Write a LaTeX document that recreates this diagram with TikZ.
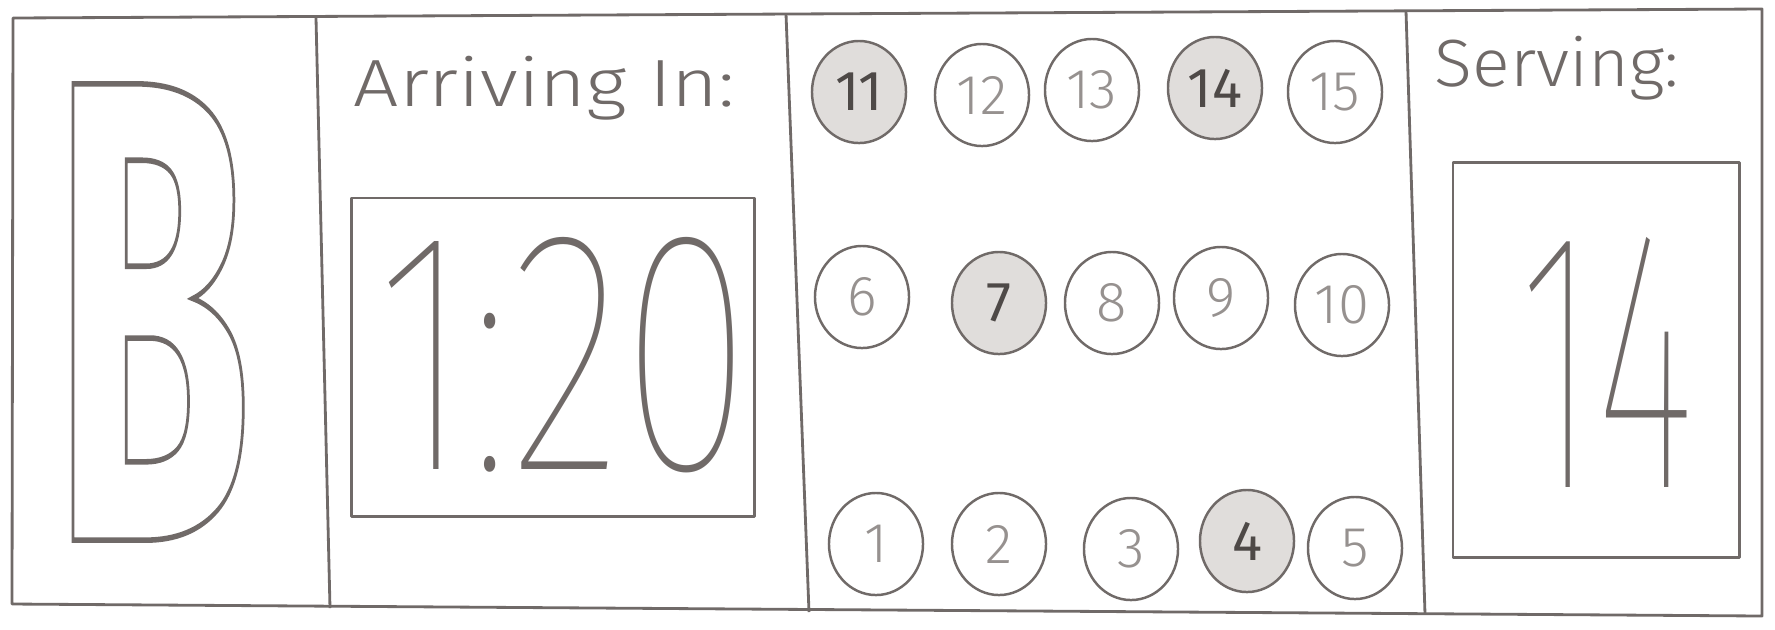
\documentclass[tikz,border=0pt]{standalone}
\usepackage{fontspec}
\setmainfont{Fira Sans}[UprightFont={* Light}, BoldFont={*}]
\newfontfamily\blockfont{Fira Sans}
\newfontfamily\hairfont{Fira Sans Thin}
\usetikzlibrary{shapes.geometric}
\definecolor{pencil}{RGB}{112,106,104}
\definecolor{faint}{RGB}{150,145,143}
\definecolor{lead}{RGB}{78,73,71}
\definecolor{shade}{RGB}{224,221,219}
\newcommand\hollowtext[1]{\special{pdf:literal direct 1 Tr 1.6 w}#1\special{pdf:literal direct 0 Tr}}
\tikzset{
  pane/.style={draw=pencil, line width=0.8pt, line join=round},
  disc/.style={draw=pencil, ellipse, minimum width=0.94cm, minimum height=1.02cm, inner sep=0pt, line width=0.7pt, text=faint, font=\fontsize{16}{16}\selectfont},
  hot/.style={fill=shade, text=lead, font=\fontsize{16}{16}\selectfont\bfseries},
  big/.style={text=pencil, inner sep=0pt},
  heading/.style={text=pencil, anchor=base west, inner sep=0pt, font=\fontsize{19}{19}\selectfont}
}
\begin{document}
\begin{tikzpicture}[x=0.01cm, y=-0.01cm]
\useasboundingbox (0,0) rectangle (1775,629);
\draw[pane] (13,18) -- (1762,9) -- (1762,616) -- (12,604) -- cycle;
\draw[pane] (316,18) -- (330,608);
\draw[pane] (786,14) -- (809,612);
\draw[pane] (1406,11) -- (1425,614);

\node[big] (route) at (152,312) {\resizebox{2.0cm}{4.56cm}{\blockfont\bfseries\fontsize{190}{190}\selectfont\hollowtext{B}}};

\node[heading] (arrive) at (353,106) {\scalebox{1.2}[1]{Arriving In:}};
\node[pane, minimum width=4.03cm, minimum height=3.18cm] (clock) at (553,357) {};
\node[big] (wait) at (564,355) {\resizebox{3.75cm}{2.32cm}{\hairfont\fontsize{96}{96}\selectfont 1:20}};

\node[disc, hot] (s11) at (859,92) {11};
\node[disc] (s12) at (982,95) {12};
\node[disc] (s13) at (1092,90) {13};
\node[disc, hot] (s14) at (1215,88) {14};
\node[disc] (s15) at (1335,92) {15};
\node[disc] (s6) at (862,297) {6};
\node[disc, hot] (s7) at (999,303) {7};
\node[disc] (s8) at (1112,303) {8};
\node[disc] (s9) at (1221,298) {9};
\node[disc] (s10) at (1342,305) {10};
\node[disc] (s1) at (876,544) {1};
\node[disc] (s2) at (999,544) {2};
\node[disc] (s3) at (1131,549) {3};
\node[disc, hot] (s4) at (1247,541) {4};
\node[disc] (s5) at (1355,548) {5};

\node[heading] (serve) at (1434,86) {\scalebox{1.05}[1]{Serving:}};
\node[pane, minimum width=2.86cm, minimum height=3.95cm] (panel) at (1596,360) {};
\node[big] (now) at (1607,362) {\resizebox{1.75cm}{2.5cm}{\hairfont\fontsize{100}{100}\selectfont 14}};
\end{tikzpicture}
\end{document}
